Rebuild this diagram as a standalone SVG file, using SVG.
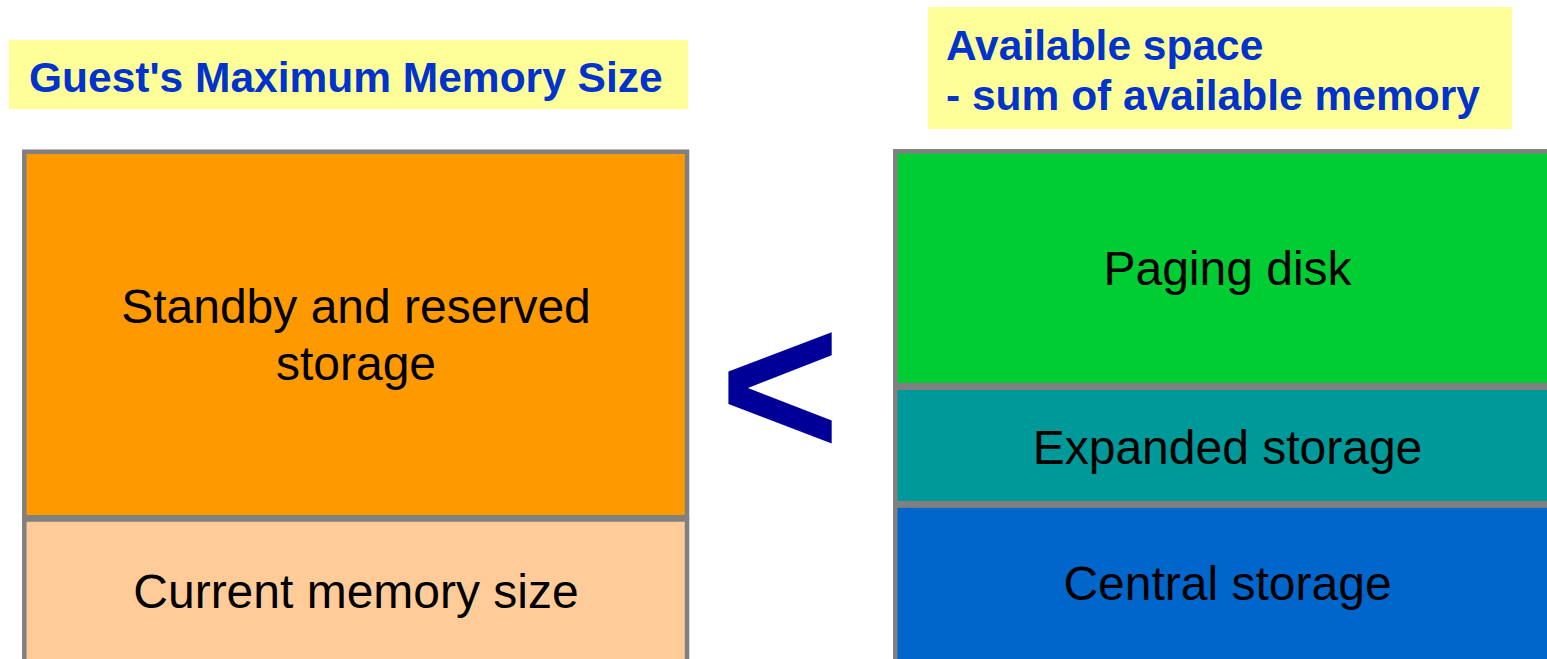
<svg xmlns="http://www.w3.org/2000/svg" width="1547" height="659" viewBox="0 0 1547 659">
<style>
.hdr{fill:#ffff99}
.ht{font-family:"Liberation Sans",Arial,sans-serif;font-weight:bold;font-size:42.5px;fill:#0033cc}
.seg{stroke:#808080;stroke-width:4.5}
.bt{font-family:"Liberation Sans",Arial,sans-serif;font-size:48px;fill:#000000;text-anchor:middle}
.lt{font-family:"Liberation Sans",Arial,sans-serif;font-weight:bold;font-size:206px;fill:#000099;text-anchor:middle}
</style>
<rect width="1547" height="659" fill="#ffffff"/>
<g id="header-left">
<rect class="hdr" x="9" y="40" width="679" height="69"/>
<text class="ht" x="29" y="91.5">Guest's Maximum Memory Size</text>
</g>
<g id="header-right">
<rect class="hdr" x="928" y="7" width="584" height="122"/>
<text class="ht" x="946" y="60">Available space</text>
<text class="ht" x="946" y="110">- sum of available memory</text>
</g>
<g id="standby">
<rect class="seg" x="24.3" y="151.7" width="662.7" height="365.6" fill="#ff9900"/>
<text class="bt" x="356" y="323">Standby and reserved</text>
<text class="bt" x="356" y="380">storage</text>
</g>
<g id="current">
<rect class="seg" x="24.3" y="519.5" width="662.7" height="200" fill="#ffcc99"/>
<text class="bt" x="356" y="608">Current memory size</text>
</g>
<g id="less-than">
<text class="lt" x="780" y="456">&lt;</text>
</g>
<g id="paging">
<rect class="seg" x="895.3" y="151.3" width="700" height="233.9" fill="#00cc33"/>
<text class="bt" x="1227.5" y="285">Paging disk</text>
</g>
<g id="expanded">
<rect class="seg" x="895.3" y="387.8" width="700" height="115.4" fill="#009999"/>
<text class="bt" x="1227.5" y="464">Expanded storage</text>
</g>
<g id="central">
<rect class="seg" x="895.3" y="505.6" width="700" height="200" fill="#0066cc"/>
<text class="bt" x="1227.5" y="600">Central storage</text>
</g>
<g id="connectors"></g>
</svg>
